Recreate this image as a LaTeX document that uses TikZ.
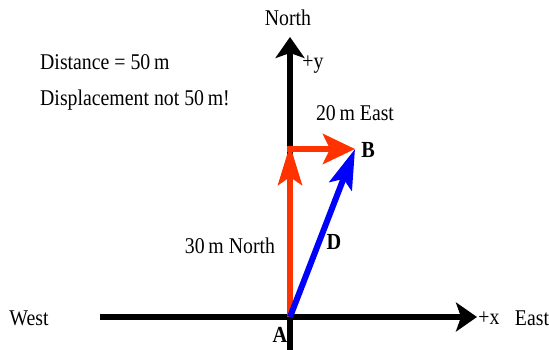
\documentclass[tikz,border=0pt]{standalone}
\usepackage{fontspec}
\setmainfont{Liberation Serif}[FakeStretch=0.88]
\usepackage{xcolor}
\usetikzlibrary{arrows.meta,positioning}

\definecolor{legred}{RGB}{255,51,0}

\begin{document}
\begin{tikzpicture}[
  x=1pt, y=1pt,
  every node/.style={font=\fontsize{22.5}{25}\selectfont, inner sep=0pt},
  axis/.style={line width=6pt, -{Stealth[length=21pt, width=29pt, inset=5pt]}},
  leg/.style={line width=6pt, color=legred},
  result/.style={line width=6pt, color=blue},
  point/.style={font=\fontsize{23}{25}\selectfont\bfseries},
]
\useasboundingbox (0,0) rectangle (549,350);

% Points
\coordinate (A) at (290, 33);
\coordinate (C) at (290, 201);
\coordinate (Ctip) at (290, 205);
\coordinate (B) at (355, 201);

% Axes
\coordinate (west) at (100, 33);
\coordinate (xend) at (477, 33);
\coordinate (south) at (290, 0);
\coordinate (yend) at (290, 313);
\draw[axis] (west) -- (xend);
\draw[axis] (south) -- (yend);

% Legs of the walk
\draw[leg, -{Stealth[length=40pt, width=24pt, inset=8pt]}] (A) -- (Ctip);
\draw[leg, -{Stealth[length=32pt, width=30pt, inset=7pt]}] ([xshift=-3pt]C) -- (B);

% Displacement
\draw[result, -{Stealth[length=40pt, width=24pt, inset=8pt]}] (A) -- (B);

% Labels
\node (north) at (288, 332) {North};
\node (plusy) at (313, 285) {+y};
\node (west lbl) at (29, 32) {West};
\node (plusx) at (489, 32) {+x};
\node (east) at (532, 32) {East};
\node (leg2) at (355, 237) {20\,m East};
\node (leg1) at (230, 104) {30\,m North};
\node[point] (B lbl) at (368, 200) {B};
\node[point] (D lbl) at (334, 108) {D};
\node[point] (A lbl) at (280, 15) {A};
\node[anchor=west] (dist) at (40, 288) {Distance = 50\,m};
\node[anchor=west] (disp) at (40, 250) {Displacement not 50\,m!};

\end{tikzpicture}
\end{document}
